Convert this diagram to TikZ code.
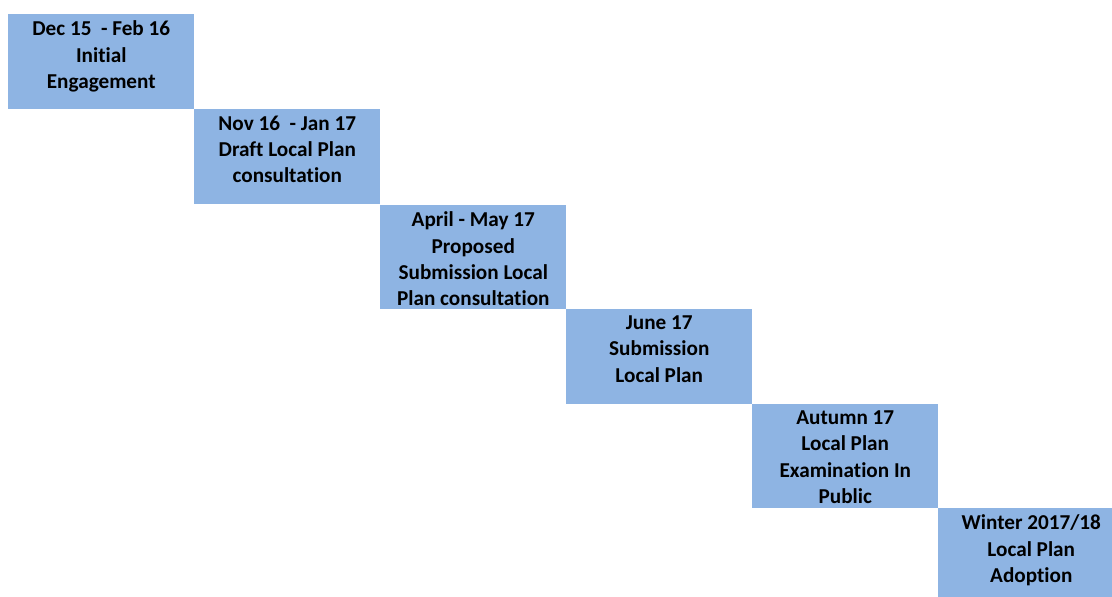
\documentclass[tikz,border=0pt]{standalone}
\usepackage{fontspec}
\setmainfont[Ligatures=NoCommon]{Carlito}
\usetikzlibrary{positioning}
\definecolor{stageblue}{HTML}{8EB4E3}
\tikzstyle{stage}=[rectangle,fill=stageblue,inner sep=0pt,minimum width=139.5pt,anchor=north west]
\tikzstyle{stagetext}=[anchor=north,inner sep=0pt,align=center,font=\bfseries\fontsize{15.9}{19.7}\selectfont]

\begin{document}
\begin{tikzpicture}[x=0.75pt,y=-0.75pt]
    \useasboundingbox (0,0) rectangle (1112,596);
    \clip (0,0) rectangle (1112,596);
    % etapes
    \foreach \pos/\name/\h/\txt in {{(8,14)/s1/71.25pt/{Dec 15\ \ - Feb 16\\Initial\\Engagement}},
        {(194,109)/s2/71.25pt/{Nov 16\ \ - Jan 17\\Draft Local Plan\\consultation}},
        {(380,205)/s3/78pt/{April - May 17\\Proposed\\Submission Local\\Plan consultation}},
        {(566,309)/s4/71.25pt/{June 17\\Submission\\Local Plan}},
        {(752,404)/s5/78pt/{Autumn 17\\Local Plan\\Examination In\\Public}},
        {(938,508)/s6/71.25pt/{Winter 2017/18\\Local Plan\\Adoption}}}
    {
        \node[stage,minimum height=\h] (\name) at \pos {};
        \node[stagetext,below=5pt of \name.north] (\name-t) {\txt};
    }
\end{tikzpicture}
\end{document}
